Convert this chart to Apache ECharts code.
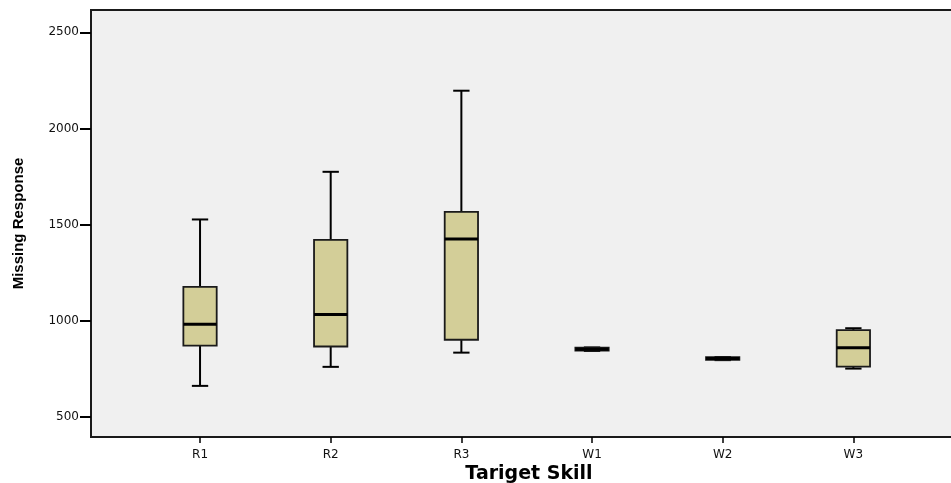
<!DOCTYPE html>
<html>
<head>
<meta charset="utf-8">
<script src="https://cdn.jsdelivr.net/npm/echarts@6/dist/echarts.min.js"></script>
<style>
html,body{margin:0;padding:0;background:#fff;}
#chart{width:951px;height:483px;}
</style>
</head>
<body>
<div id="chart"></div>
<script>
const categories = ['R1', 'R2', 'R3', 'W1', 'W2', 'W3'];
const lowWhisker    = [660, 759, 833, 842, 794, 750];
const lowerQuartile = [870, 865, 900, 843, 795, 760];
const median        = [981, 1031, 1424, 851, 802, 858];
const upperQuartile = [1175, 1420, 1566, 859, 809, 950];
const highWhisker   = [1526, 1774, 2196, 860, 810, 960];
const yTicks = [500, 1000, 1500, 2000, 2500];
const yMin = 394, yMax = 2616;

const boxData = categories.map((c, i) => [i, lowWhisker[i], lowerQuartile[i], median[i], upperQuartile[i], highWhisker[i]]);

const chart = echarts.init(document.getElementById('chart'), null, {renderer: 'canvas'});
chart.setOption({
  animation: false,
  backgroundColor: '#ffffff',
  grid: [
    {left: 91, top: 10, width: 876, bottom: 46, show: true, backgroundColor: '#f0f0f0', borderColor: '#1a1a1a', borderWidth: 2, containLabel: false, outerBoundsMode: 'none'},
    {left: 134.7, top: 10, width: 784, bottom: 46, containLabel: false, outerBoundsMode: 'none'}
  ],
  xAxis: [
    {type: 'value', gridIndex: 0, min: 0, max: 1, axisLine: {show: false}, axisTick: {show: false}, axisLabel: {show: false}, splitLine: {show: false},
     name: 'Tariget Skill', nameLocation: 'middle', nameGap: 28,
     nameTextStyle: {fontFamily: 'DejaVu Sans', fontWeight: 'bold', fontSize: 19, color: '#000'}},
    {type: 'category', gridIndex: 1, data: categories, boundaryGap: true,
     axisLine: {show: false},
     axisTick: {show: true, alignWithLabel: true, length: 6, lineStyle: {color: '#000', width: 1.5}},
     axisLabel: {margin: 12, fontFamily: 'DejaVu Sans', fontSize: 12, color: '#111'},
     splitLine: {show: false}}
  ],
  yAxis: [
    {type: 'value', gridIndex: 0, min: yMin, max: yMax,
     axisLine: {show: false},
     axisTick: {show: true, customValues: yTicks, length: 11, lineStyle: {color: '#000', width: 2}},
     axisLabel: {show: true, customValues: yTicks, margin: 12, fontFamily: 'DejaVu Sans', fontSize: 12, color: '#111',
       formatter: function (v) { return String(v); }},
     splitLine: {show: false},
     name: 'Missing Response', nameLocation: 'middle', nameGap: 65,
     nameTextStyle: {fontFamily: 'Liberation Sans', fontWeight: 'bold', fontSize: 15, color: '#000'}},
    {type: 'value', gridIndex: 1, min: yMin, max: yMax, show: false}
  ],
  series: [{
    type: 'custom',
    xAxisIndex: 1,
    yAxisIndex: 1,
    data: boxData,
    clip: false,
    renderItem: function (params, api) {
      const x = api.value(0);
      const pLow = api.coord([x, api.value(1)]);
      const pQ1 = api.coord([x, api.value(2)]);
      const pMed = api.coord([x, api.value(3)]);
      const pQ3 = api.coord([x, api.value(4)]);
      const pHigh = api.coord([x, api.value(5)]);
      const band = api.size([1, 0])[0];
      const bw = band * 0.255;
      const cw = band * 0.125;
      const cx = pMed[0];
      const lineStyle = {stroke: '#000', lineWidth: 2};
      return {
        type: 'group',
        children: [
          {type: 'line', shape: {x1: cx, y1: pHigh[1], x2: cx, y2: pQ3[1]}, style: lineStyle},
          {type: 'line', shape: {x1: cx, y1: pQ1[1], x2: cx, y2: pLow[1]}, style: lineStyle},
          {type: 'line', shape: {x1: cx - cw / 2, y1: pHigh[1], x2: cx + cw / 2, y2: pHigh[1]}, style: lineStyle},
          {type: 'line', shape: {x1: cx - cw / 2, y1: pLow[1], x2: cx + cw / 2, y2: pLow[1]}, style: lineStyle},
          {type: 'rect', shape: {x: cx - bw / 2, y: pQ3[1], width: bw, height: pQ1[1] - pQ3[1]},
           style: {fill: '#d3ce98', stroke: '#1a1a1a', lineWidth: 1.8}},
          {type: 'line', shape: {x1: cx - bw / 2, y1: pMed[1], x2: cx + bw / 2, y2: pMed[1]}, style: {stroke: '#000', lineWidth: 3}}
        ]
      };
    }
  }]
});
</script>
</body>
</html>
